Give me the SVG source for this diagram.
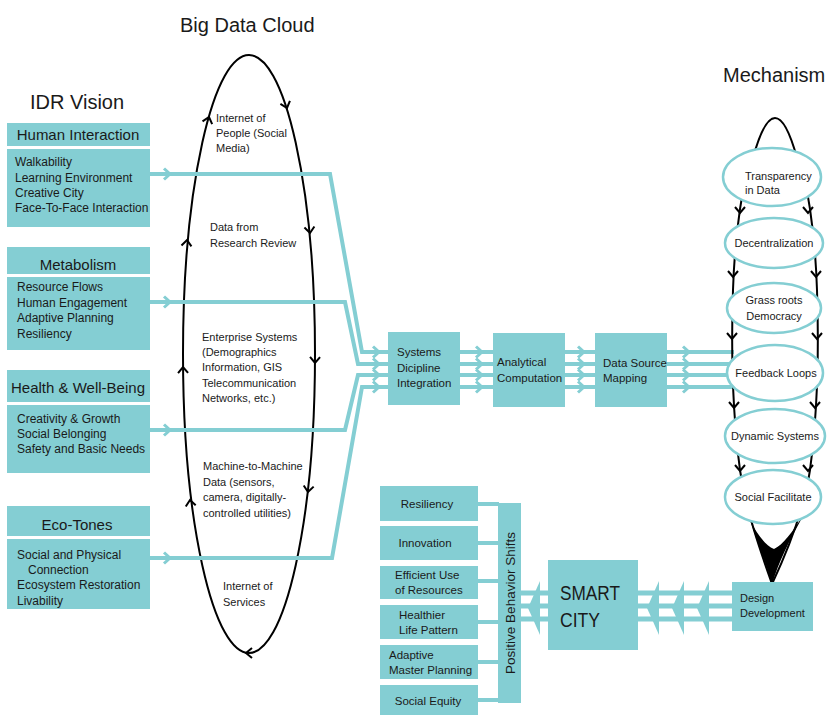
<svg xmlns="http://www.w3.org/2000/svg" xmlns:xlink="http://www.w3.org/1999/xlink" width="827" height="715" viewBox="0 0 827 715">
<style>
.box{fill:#84CED3;}
.t{font-family:"Liberation Sans",Arial,sans-serif;fill:#1a1a1a;}
.title{font-size:20px;}
.hd{font-size:15px;text-anchor:middle;}
.bd{font-size:12px;}
.cl{font-size:11px;}
.mid{font-size:11.5px;}
.mc{font-size:11px;text-anchor:middle;}
.sm{font-size:11.5px;}
.ln{fill:none;stroke:#84CED3;stroke-width:4;stroke-linejoin:miter;}
.ln5{fill:none;stroke:#84CED3;stroke-width:5;}
.el{fill:#fff;stroke:#84CED3;stroke-width:2.5;}
.blk{fill:none;stroke:#000;stroke-width:2;}
</style>
<defs>
<path id="chevR" d="M-6,-5.5 L0,0 L-6,5.5" fill="none" stroke="#84CED3" stroke-width="3"/>
<path id="chevD" d="M-5,-6 L0,0 L5,-6" fill="none" stroke="#000" stroke-width="2"/>
<polygon id="chevL" points="12,-27 0,0 12,27" fill="#84CED3"/>
</defs>

<!-- Titles -->
<text class="t title" x="30" y="109">IDR Vision</text>
<text class="t title" x="180" y="32">Big Data Cloud</text>
<text class="t title" x="723" y="82">Mechanism</text>

<!-- Big Data Cloud -->
<g id="cloud">
<ellipse cx="249" cy="354" rx="66" ry="299" class="blk"/>
<use xlink:href="#chevD" transform="translate(287,108) rotate(-17.7)"/>
<use xlink:href="#chevD" transform="translate(310,233) rotate(-5.6)"/>
<use xlink:href="#chevD" transform="translate(315,363) rotate(0.4)"/>
<use xlink:href="#chevD" transform="translate(308,492) rotate(6.6)"/>
<use xlink:href="#chevD" transform="translate(246,653) rotate(90)"/>
<use xlink:href="#chevD" transform="translate(209,117) rotate(-164)"/>
<use xlink:href="#chevD" transform="translate(187,240) rotate(-174.8)"/>
<use xlink:href="#chevD" transform="translate(183,367) rotate(-180.5)"/>
<use xlink:href="#chevD" transform="translate(190,500) rotate(-187)"/>
<text class="t cl" x="216" y="122">Internet of</text>
<text class="t cl" x="216" y="137">People (Social</text>
<text class="t cl" x="216" y="152">Media)</text>
<text class="t cl" x="210" y="231">Data from</text>
<text class="t cl" x="210" y="247">Research Review</text>
<text class="t cl" x="202" y="341">Enterprise Systems</text>
<text class="t cl" x="202" y="356">(Demographics</text>
<text class="t cl" x="202" y="371">Information, GIS</text>
<text class="t cl" x="202" y="387">Telecommunication</text>
<text class="t cl" x="202" y="402">Networks, etc.)</text>
<text class="t cl" x="203" y="470">Machine-to-Machine</text>
<text class="t cl" x="203" y="486">Data (sensors,</text>
<text class="t cl" x="203" y="501">camera, digitally-</text>
<text class="t cl" x="203" y="516.5">controlled utilities)</text>
<text class="t cl" x="223" y="590">Internet of</text>
<text class="t cl" x="223" y="606">Services</text>
</g>

<!-- IDR Vision nodes -->
<g id="human-interaction">
<rect class="box" x="7" y="123" width="143" height="23"/>
<text class="t hd" x="78" y="140">Human Interaction</text>
<rect class="box" x="7" y="149" width="143" height="78"/>
<text class="t bd" x="15" y="166">Walkability</text>
<text class="t bd" x="15" y="181.5">Learning Environment</text>
<text class="t bd" x="15" y="197">Creative City</text>
<text class="t bd" x="15" y="212">Face-To-Face Interaction</text>
</g>
<g id="metabolism">
<rect class="box" x="7" y="247" width="143" height="27"/>
<text class="t hd" x="78" y="269.5">Metabolism</text>
<rect class="box" x="7" y="277" width="143" height="73"/>
<text class="t bd" x="17" y="291">Resource Flows</text>
<text class="t bd" x="17" y="306.5">Human Engagement</text>
<text class="t bd" x="17" y="322">Adaptive Planning</text>
<text class="t bd" x="17" y="337.5">Resiliency</text>
</g>
<g id="health">
<rect class="box" x="7" y="370" width="143" height="32"/>
<text class="t hd" x="78" y="393">Health &amp; Well-Being</text>
<rect class="box" x="7" y="405" width="143" height="68"/>
<text class="t bd" x="17" y="422.5">Creativity &amp; Growth</text>
<text class="t bd" x="17" y="437.5">Social Belonging</text>
<text class="t bd" x="17" y="453">Safety and Basic Needs</text>
</g>
<g id="eco-tones">
<rect class="box" x="7" y="506" width="143" height="30"/>
<text class="t hd" x="77" y="529.5">Eco-Tones</text>
<rect class="box" x="7" y="539" width="143" height="70"/>
<text class="t bd" x="17" y="558.5">Social and Physical</text>
<text class="t bd" x="28" y="573.5">Connection</text>
<text class="t bd" x="17" y="589">Ecosystem Restoration</text>
<text class="t bd" x="17" y="605">Livability</text>
</g>

<!-- Connectors -->
<g id="connectors">
<polyline class="ln" points="150,174 330,174 362,352 390,352"/>
<polyline class="ln" points="150,302 345,302 358,364 390,364"/>
<polyline class="ln" points="150,430 345,430 358,375 390,375"/>
<polyline class="ln" points="150,558 332,558 362,387 390,387"/>
<use xlink:href="#chevR" x="170" y="174"/>
<use xlink:href="#chevR" x="170" y="302"/>
<use xlink:href="#chevR" x="170" y="430"/>
<use xlink:href="#chevR" x="170" y="558"/>
<g>
<use xlink:href="#chevR" x="379" y="352"/><use xlink:href="#chevR" x="379" y="364"/><use xlink:href="#chevR" x="379" y="375"/><use xlink:href="#chevR" x="379" y="387"/>
</g>
<path class="ln" d="M460,352H495M460,364H495M460,375H495M460,387H495"/>
<use xlink:href="#chevR" x="482" y="352"/><use xlink:href="#chevR" x="482" y="364"/><use xlink:href="#chevR" x="482" y="375"/><use xlink:href="#chevR" x="482" y="387"/>
<path class="ln" d="M565,352H597M565,364H597M565,375H597M565,387H597"/>
<use xlink:href="#chevR" x="584" y="352"/><use xlink:href="#chevR" x="584" y="364"/><use xlink:href="#chevR" x="584" y="375"/><use xlink:href="#chevR" x="584" y="387"/>
<path class="ln" d="M667,352H734M667,364H734M667,375H734M667,387H734"/>
<use xlink:href="#chevR" x="689" y="352"/><use xlink:href="#chevR" x="689" y="364"/><use xlink:href="#chevR" x="689" y="375"/><use xlink:href="#chevR" x="689" y="387"/>
<!-- design development to smart city -->
<path class="ln5" d="M638,593H733M638,606H733M638,619H733"/>
<use xlink:href="#chevL" x="647" y="608"/>
<use xlink:href="#chevL" x="672" y="608"/>
<use xlink:href="#chevL" x="697" y="608"/>
<!-- smart city to behaviour bar -->
<path class="ln5" d="M520,593H549M520,606H549M520,619H549"/>
<use xlink:href="#chevL" x="528" y="608"/>
<!-- boxes to bar -->
<path class="ln" d="M478,504H499M478,543H499M478,581H499M478,622H499M478,662H499M478,700H499"/>
</g>

<!-- Mechanism loop -->
<g id="mechanism-loop">
<path class="blk" d="M753,158 Q775,78 797,158"/>
<path class="blk" d="M753,152 C743,180 735,230 733,290 C731,350 732,410 740,470 C746,510 760,550 772,584"/>
<path class="blk" d="M797,152 C807,180 815,230 817,290 C819,350 818,410 810,470 C804,510 788,550 772,584"/>
<path d="M750,520 C758,545 767,565 772,585 C778,562 790,540 803,516 C792,532 783,545 774,549 C765,545 757,534 750,520 Z" fill="#000"/>
<use xlink:href="#chevD" x="740" y="213"/><use xlink:href="#chevD" x="808" y="213"/>
<use xlink:href="#chevD" x="733" y="277"/><use xlink:href="#chevD" x="816" y="277"/>
<use xlink:href="#chevD" x="732" y="339"/><use xlink:href="#chevD" x="817" y="339"/>
<use xlink:href="#chevD" x="734" y="408"/><use xlink:href="#chevD" x="815" y="408"/>
<use xlink:href="#chevD" x="740" y="471"/><use xlink:href="#chevD" x="808" y="471"/>
</g>
<g id="transparency">
<ellipse class="el" cx="772" cy="177" rx="49" ry="29"/>
<text class="t cl" x="745" y="180">Transparency</text>
<text class="t cl" x="745" y="194">in Data</text>
</g>
<g id="decentralization">
<ellipse class="el" cx="774" cy="243" rx="49" ry="25"/>
<text class="t mc" x="774" y="247">Decentralization</text>
</g>
<g id="grass-roots">
<ellipse class="el" cx="774" cy="308" rx="47" ry="25"/>
<text class="t mc" x="774" y="304">Grass roots</text>
<text class="t mc" x="774" y="320">Democracy</text>
</g>
<g id="feedback-loops">
<ellipse class="el" cx="775" cy="373" rx="48" ry="28"/>
<text class="t mc" x="776" y="377">Feedback Loops</text>
</g>
<g id="dynamic-systems">
<ellipse class="el" cx="775" cy="436" rx="50" ry="27"/>
<text class="t mc" x="775" y="440">Dynamic Systems</text>
</g>
<g id="social-facilitate">
<ellipse class="el" cx="773" cy="497" rx="48" ry="27"/>
<text class="t mc" x="773" y="501">Social Facilitate</text>
</g>

<!-- Middle pipeline -->
<g id="systems-integration">
<rect class="box" x="388" y="332" width="72" height="73"/>
<text class="t mid" x="397" y="356">Systems</text>
<text class="t mid" x="397" y="372">Dicipline</text>
<text class="t mid" x="397" y="387">Integration</text>
</g>
<g id="analytical-computation">
<rect class="box" x="493" y="333" width="72" height="74"/>
<text class="t mid" x="497" y="366">Analytical</text>
<text class="t mid" x="497" y="381.5">Computation</text>
</g>
<g id="data-source-mapping">
<rect class="box" x="595" y="333" width="72" height="74"/>
<text class="t mid" x="603" y="366.5">Data Source</text>
<text class="t mid" x="603" y="382">Mapping</text>
</g>

<!-- Bottom -->
<g id="design-development">
<rect class="box" x="732" y="582" width="81" height="49"/>
<text class="t cl" x="740" y="602">Design</text>
<text class="t cl" x="740" y="617">Development</text>
</g>
<g id="smart-city">
<rect class="box" x="548" y="560" width="90" height="90"/>
<text class="t" x="560" y="600" font-size="21" textLength="60" lengthAdjust="spacingAndGlyphs">SMART</text>
<text class="t" x="560" y="627" font-size="21" textLength="40" lengthAdjust="spacingAndGlyphs">CITY</text>
</g>
<g id="positive-behavior-shifts">
<rect class="box" x="498" y="503" width="23" height="200"/>
<text class="t" font-size="13.5" text-anchor="middle" transform="translate(514.5,603) rotate(-90)">Positive Behavior Shifts</text>
</g>
<g id="resiliency">
<rect class="box" x="380" y="486" width="98" height="35"/>
<text class="t sm" x="427" y="508" text-anchor="middle">Resiliency</text>
</g>
<g id="innovation">
<rect class="box" x="380" y="526" width="98" height="34"/>
<text class="t sm" x="425" y="547" text-anchor="middle">Innovation</text>
</g>
<g id="efficient-use">
<rect class="box" x="380" y="566" width="98" height="33"/>
<text class="t sm" x="395" y="579">Efficient Use</text>
<text class="t sm" x="395" y="594">of Resources</text>
</g>
<g id="healthier">
<rect class="box" x="380" y="605" width="98" height="34"/>
<text class="t sm" x="399" y="619">Healthier</text>
<text class="t sm" x="399" y="634">Life Pattern</text>
</g>
<g id="adaptive-master-planning">
<rect class="box" x="380" y="645" width="98" height="34"/>
<text class="t sm" x="389" y="659">Adaptive</text>
<text class="t sm" x="389" y="674">Master Planning</text>
</g>
<g id="social-equity">
<rect class="box" x="380" y="685" width="98" height="30"/>
<text class="t sm" x="428" y="705" text-anchor="middle">Social Equity</text>
</g>
</svg>
